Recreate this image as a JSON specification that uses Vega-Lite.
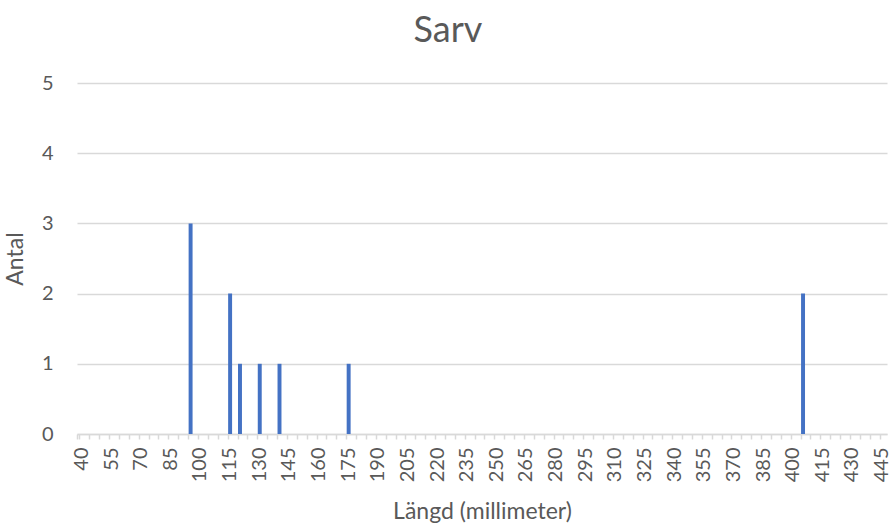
{
  "$schema": "https://vega.github.io/schema/vega-lite/v6.json",
  "width": 810,
  "height": 351,
  "autosize": "none",
  "padding": {"left": 77, "top": 83, "right": 6, "bottom": 91},
  "background": "white",
  "title": {
    "text": "Sarv",
    "font": "Lato",
    "fontSize": 36,
    "fontWeight": "normal",
    "color": "#595959",
    "anchor": "middle",
    "dx": -34,
    "offset": 23
  },
  "data": {
    "values": [
      {"len": 40, "n": 0}, {"len": 45, "n": 0}, {"len": 50, "n": 0}, {"len": 55, "n": 0},
      {"len": 60, "n": 0}, {"len": 65, "n": 0}, {"len": 70, "n": 0}, {"len": 75, "n": 0},
      {"len": 80, "n": 0}, {"len": 85, "n": 0}, {"len": 90, "n": 0}, {"len": 95, "n": 3},
      {"len": 100, "n": 0}, {"len": 105, "n": 0}, {"len": 110, "n": 0}, {"len": 115, "n": 2},
      {"len": 120, "n": 1}, {"len": 125, "n": 0}, {"len": 130, "n": 1}, {"len": 135, "n": 0},
      {"len": 140, "n": 1}, {"len": 145, "n": 0}, {"len": 150, "n": 0}, {"len": 155, "n": 0},
      {"len": 160, "n": 0}, {"len": 165, "n": 0}, {"len": 170, "n": 0}, {"len": 175, "n": 1},
      {"len": 180, "n": 0}, {"len": 185, "n": 0}, {"len": 190, "n": 0}, {"len": 195, "n": 0},
      {"len": 200, "n": 0}, {"len": 205, "n": 0}, {"len": 210, "n": 0}, {"len": 215, "n": 0},
      {"len": 220, "n": 0}, {"len": 225, "n": 0}, {"len": 230, "n": 0}, {"len": 235, "n": 0},
      {"len": 240, "n": 0}, {"len": 245, "n": 0}, {"len": 250, "n": 0}, {"len": 255, "n": 0},
      {"len": 260, "n": 0}, {"len": 265, "n": 0}, {"len": 270, "n": 0}, {"len": 275, "n": 0},
      {"len": 280, "n": 0}, {"len": 285, "n": 0}, {"len": 290, "n": 0}, {"len": 295, "n": 0},
      {"len": 300, "n": 0}, {"len": 305, "n": 0}, {"len": 310, "n": 0}, {"len": 315, "n": 0},
      {"len": 320, "n": 0}, {"len": 325, "n": 0}, {"len": 330, "n": 0}, {"len": 335, "n": 0},
      {"len": 340, "n": 0}, {"len": 345, "n": 0}, {"len": 350, "n": 0}, {"len": 355, "n": 0},
      {"len": 360, "n": 0}, {"len": 365, "n": 0}, {"len": 370, "n": 0}, {"len": 375, "n": 0},
      {"len": 380, "n": 0}, {"len": 385, "n": 0}, {"len": 390, "n": 0}, {"len": 395, "n": 0},
      {"len": 400, "n": 0}, {"len": 405, "n": 2}, {"len": 410, "n": 0}, {"len": 415, "n": 0},
      {"len": 420, "n": 0}, {"len": 425, "n": 0}, {"len": 430, "n": 0}, {"len": 435, "n": 0},
      {"len": 440, "n": 0}, {"len": 445, "n": 0}
    ]
  },
  "mark": {"type": "bar", "color": "#4472C4"},
  "encoding": {
    "x": {
      "field": "len",
      "type": "ordinal",
      "sort": "ascending",
      "scale": {"paddingInner": 0.6, "paddingOuter": 0.3},
      "axis": {
        "title": "Längd (millimeter)",
        "titleFont": "Lato",
        "titleFontSize": 23,
        "titleFontWeight": "normal",
        "titleColor": "#595959",
        "titlePadding": 19,
        "labelFont": "Lato",
        "labelFontSize": 20,
        "labelColor": "#595959",
        "labelAngle": 270,
        "labelPadding": 8,
        "labelOverlap": false,
        "labelExpr": "(datum.value - 40) % 15 === 0 ? datum.label : ''",
        "bandPosition": 0,
        "tickExtra": true,
        "ticks": true,
        "tickSize": 5,
        "tickColor": "#d9d9d9",
        "tickWidth": 1.5,
        "domainColor": "#d9d9d9",
        "domainWidth": 1.5,
        "grid": false
      }
    },
    "y": {
      "field": "n",
      "type": "quantitative",
      "scale": {"domain": [0, 5]},
      "axis": {
        "title": "Antal",
        "titleFont": "Lato",
        "titleFontSize": 23,
        "titleFontWeight": "normal",
        "titleColor": "#595959",
        "titlePadding": 14,
        "labelFont": "Lato",
        "labelFontSize": 20,
        "labelColor": "#595959",
        "labelPadding": 24,
        "values": [0, 1, 2, 3, 4, 5],
        "format": "d",
        "ticks": false,
        "domain": false,
        "grid": true,
        "gridColor": "#d9d9d9",
        "gridWidth": 1.5
      }
    }
  },
  "config": {"view": {"stroke": null}}
}
